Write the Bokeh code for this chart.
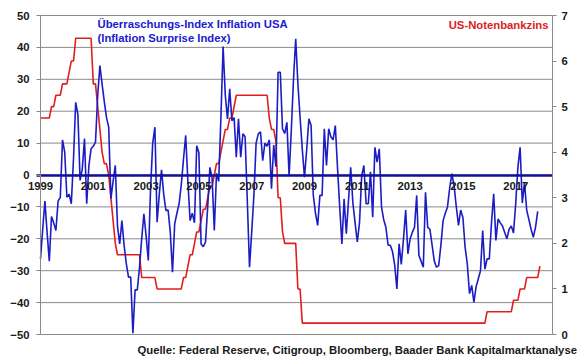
from bokeh.plotting import figure
from bokeh.models import (Range1d, LinearAxis, FixedTicker, Label)
from bokeh.embed import file_html
from bokeh.resources import INLINE

# ---- data (monthly, Jan 1999 = month 0) ----
year_labels = ["1999", "2001", "2003", "2005", "2007", "2009", "2011", "2013", "2015", "2017"]
year_ticks = [0, 24, 48, 72, 96, 120, 144, 168, 192, 216]

surprise_index = [
    -26.3, -17, -8.2, -18, -27, -13, -15, -17.4, -8.2, -7, 11, 7.2,            # 1999
    -7, -6, -9, 5, 22.8, 19, -1.7, 2, 11.4, -9, 3, 8.2,                        # 2000
    9, 10.3, 25, 34.3, 28.5, 23, 18, 15, -7.4, -2, 3, -16,                      # 2001
    -21.6, -14.3, -22, -27.8, -32, -32, -49.6, -36, -36, -29, -20, -12.2,       # 2002
    -19, -26.8, -5, 10, 15, -14.8, -6, 1.6, -6, -11.1, -11, -18,                # 2003
    -30.5, -15.3, -12, -9, -3, 5, 12.4, -2, -14.3, -12, -15, 9.2,               # 2004
    7, -21.6, -22.5, -21, -10, 2.4, -1, -17.4, 0.5, -2, 18, 40.3,               # 2005
    25, 17.6, 27, 17, 18, 5.6, 17.6, 5.6, 12.9, 12, -8, -28.9,                  # 2006
    -18, -6.4, 10, 12.9, 13.5, 4.5, 10, 9, 11, -4.3, 9.4, 2.6,                  # 2007
    32.2, 32.2, 14.5, 13, 16.5, -0.2, 14, 30, 42.7, 28.6, 18, 8,                # 2008
    -0.7, 8, 17.6, 15.5, -6.4, -12, -15.8, -6.4, -6.4, 14.5, 3, 14.5,           # 2009
    12, 11, 15.5, 2.4, -10, -21.6, -7.5, -18.4, -8, 2.4, -8.8, -15,             # 2010
    -21, -15, -0.2, 3, -9, -9, 1, -13.2, 8.7, 4, 8.2, -10,                      # 2011
    -14, -16.4, -22, -22, -24, -28.2, -35.7, -21.6, -28, -20, -11, -24.7,       # 2012
    -20, -18, -16.4, -6.4, -25.2, -27, -28.9, -5.4, -16.4, -17, -22, -27,       # 2013
    -28.9, -28.4, -22, -14.3, -12, -10, -4, 0.4, -3.4, -10, -15.8, -11,         # 2014
    -13.3, -22.6, -27.9, -37.2, -34.6, -39.9, -35, -32.5, -30, -17.4, -29.5, -26.3,  # 2015
    -26.3, -15, -5.9, -20.5, -13.8, -15, -16, -18, -20, -17, -16, -18.2,        # 2016
    -9, 2.4, 8.7, -8.8, -2.4, -11, -14, -17, -19.5, -16.4, -11.4,              # 2017
]

fed_funds_rate = [
    4.75, 4.75, 4.75, 4.75, 4.75, 5.0, 5.0, 5.25, 5.25, 5.25, 5.5, 5.5,         # 1999
    5.5, 5.75, 6.0, 6.0, 6.5, 6.5, 6.5, 6.5, 6.5, 6.5, 6.5, 6.5,                # 2000
    5.5, 5.5, 5.0, 4.5, 4.0, 3.75, 3.75, 3.5, 3.0, 2.5, 2.0, 1.75,              # 2001
    1.75, 1.75, 1.75, 1.75, 1.75, 1.75, 1.75, 1.75, 1.75, 1.75, 1.25, 1.25,     # 2002
    1.25, 1.25, 1.25, 1.25, 1.25, 1.0, 1.0, 1.0, 1.0, 1.0, 1.0, 1.0,            # 2003
    1.0, 1.0, 1.0, 1.0, 1.0, 1.25, 1.25, 1.5, 1.75, 1.75, 2.0, 2.25,            # 2004
    2.25, 2.5, 2.75, 2.75, 3.0, 3.25, 3.25, 3.5, 3.75, 3.75, 4.0, 4.25,         # 2005
    4.5, 4.5, 4.75, 4.75, 5.0, 5.25, 5.25, 5.25, 5.25, 5.25, 5.25, 5.25,        # 2006
    5.25, 5.25, 5.25, 5.25, 5.25, 5.25, 5.25, 5.25, 4.75, 4.5, 4.5, 4.25,       # 2007
    3.0, 3.0, 2.25, 2.0, 2.0, 2.0, 2.0, 2.0, 2.0, 1.0, 1.0, 0.25,               # 2008
    0.25, 0.25, 0.25, 0.25, 0.25, 0.25, 0.25, 0.25, 0.25, 0.25, 0.25, 0.25,     # 2009
    0.25, 0.25, 0.25, 0.25, 0.25, 0.25, 0.25, 0.25, 0.25, 0.25, 0.25, 0.25,     # 2010
    0.25, 0.25, 0.25, 0.25, 0.25, 0.25, 0.25, 0.25, 0.25, 0.25, 0.25, 0.25,     # 2011
    0.25, 0.25, 0.25, 0.25, 0.25, 0.25, 0.25, 0.25, 0.25, 0.25, 0.25, 0.25,     # 2012
    0.25, 0.25, 0.25, 0.25, 0.25, 0.25, 0.25, 0.25, 0.25, 0.25, 0.25, 0.25,     # 2013
    0.25, 0.25, 0.25, 0.25, 0.25, 0.25, 0.25, 0.25, 0.25, 0.25, 0.25, 0.25,     # 2014
    0.25, 0.25, 0.25, 0.25, 0.25, 0.25, 0.25, 0.25, 0.25, 0.25, 0.25, 0.5,      # 2015
    0.5, 0.5, 0.5, 0.5, 0.5, 0.5, 0.5, 0.5, 0.5, 0.5, 0.5, 0.75,                # 2016
    0.75, 0.75, 1.0, 1.0, 1.0, 1.25, 1.25, 1.25, 1.25, 1.25, 1.25, 1.5,         # 2017
]

left_ticks = [-50, -40, -30, -20, -10, 0, 10, 20, 30, 40, 50]
right_ticks = [0, 1, 2, 3, 4, 5, 6, 7]

# ---- layout (pixels) ----
W, H = 580, 358
PLOT_L, PLOT_R, PLOT_T, PLOT_B = 40, 552, 15, 334
PX_PER_MONTH = 2.2
L_MIN, L_MAX = -50, 50
R_MIN, R_MAX = 0, 7

px_per_unit = (PLOT_B - PLOT_T) / (L_MAX - L_MIN)
X_START = -PLOT_L / PX_PER_MONTH
X_END = (PLOT_R - PLOT_L) / PX_PER_MONTH
X_FRAME_END = (W - PLOT_L) / PX_PER_MONTH
Y_END = L_MAX + PLOT_T / px_per_unit
Y_START = L_MIN - (H - PLOT_B) / px_per_unit
r_scale = (R_MAX - R_MIN) / (L_MAX - L_MIN)
R_START = R_MIN - (L_MIN - Y_START) * r_scale
R_END = R_MAX + (Y_END - L_MAX) * r_scale

# ---- styling ----
FONT = "Liberation Sans"
FS = "11.3px"
BLUE = "#1c1cc4"
AXIS_BLUE = "#10109a"
RED = "#e01e1e"
GRID = "#8a8a8a"
TXT = "#1a1a1a"

p = figure(width=W, height=H, output_backend="svg", toolbar_location=None,
           x_range=Range1d(X_START, X_FRAME_END), y_range=Range1d(Y_START, Y_END),
           min_border_left=0, min_border_right=0, min_border_top=0,
           min_border_bottom=0)
p.outline_line_color = None
p.background_fill_color = "white"
p.border_fill_color = "white"
p.xgrid.visible = False
p.ygrid.visible = False

# horizontal grid lines, within the plot area
p.segment(x0=[0] * len(left_ticks), x1=[X_END] * len(left_ticks),
          y0=left_ticks, y1=left_ticks, line_color=GRID, line_width=1)

# x axis drawn along the zero line
xax = p.xaxis[0]
xax.fixed_location = 0
xax.bounds = (-1.6, X_END)
xax.ticker = FixedTicker(ticks=year_ticks)
xax.major_label_overrides = {t: lab for t, lab in zip(year_ticks, year_labels)}
xax.axis_line_color = AXIS_BLUE
xax.axis_line_width = 2.6
xax.major_tick_line_color = None
xax.minor_tick_line_color = None
xax.major_tick_out = 0
xax.major_tick_in = 0
xax.major_label_standoff = 7
xax.major_label_text_font = FONT
xax.major_label_text_font_style = "bold"
xax.major_label_text_font_size = FS
xax.major_label_text_color = TXT

# left value axis at month 0
yax = p.yaxis[0]
yax.fixed_location = 0
yax.bounds = (L_MIN, L_MAX)
yax.ticker = FixedTicker(ticks=left_ticks)
yax.axis_line_color = GRID
yax.major_tick_line_color = GRID
yax.major_tick_out = 4
yax.major_tick_in = 0
yax.minor_tick_line_color = None
yax.major_label_standoff = 7
yax.major_label_text_font = FONT
yax.major_label_text_font_style = "bold"
yax.major_label_text_font_size = FS
yax.major_label_text_color = TXT

# right axis for the policy rate
p.extra_y_ranges = {"rate": Range1d(R_START, R_END)}
rax = LinearAxis(y_range_name="rate", ticker=FixedTicker(ticks=right_ticks),
                 fixed_location=X_END, bounds=(R_MIN, R_MAX))
rax.axis_line_color = GRID
rax.major_tick_line_color = GRID
rax.major_tick_out = 4
rax.major_tick_in = 0
rax.minor_tick_line_color = None
rax.major_label_standoff = 5
rax.major_label_text_font = FONT
rax.major_label_text_font_style = "bold"
rax.major_label_text_font_size = FS
rax.major_label_text_color = TXT
p.add_layout(rax, "right")

# series
p.line(list(range(len(fed_funds_rate))), fed_funds_rate, y_range_name="rate",
       line_color=RED, line_width=1.6)
p.line(list(range(len(surprise_index))), surprise_index,
       line_color=BLUE, line_width=1.6)

# titles
common = dict(text_font=FONT, text_font_style="bold", text_font_size=FS,
              text_baseline="middle")
p.add_layout(Label(x=0, y=47.2, x_offset=57, text="Überraschungs-Index Inflation USA",
                   text_color="#1a1ad0", text_align="left", **common))
p.add_layout(Label(x=0, y=43.1, x_offset=57, text="(Inflation Surprise Index)",
                   text_color="#1a1ad0", text_align="left", **common))
p.add_layout(Label(x=X_END, y=46.9, x_offset=-4, text="US-Notenbankzins",
                   text_color="#d81e1e", text_align="right", **common))
p.add_layout(Label(x=0, y=-55.0, x_offset=97,
                   text="Quelle: Federal Reserve, Citigroup, Bloomberg, Baader Bank Kapitalmarktanalyse",
                   text_color=TXT, text_align="left", **common))

open("out.html", "w").write(file_html(p, INLINE))
